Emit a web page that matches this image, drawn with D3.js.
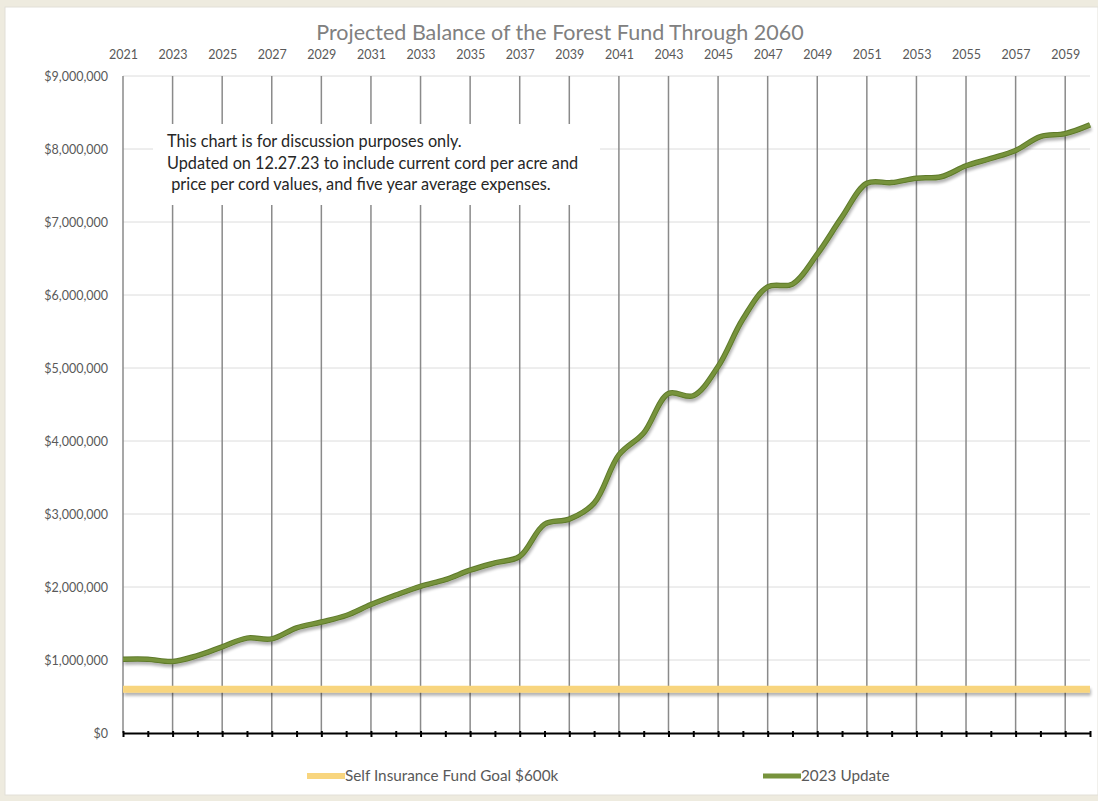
<!DOCTYPE html>
<html>
<head>
<meta charset="utf-8">
<script src="https://cdn.jsdelivr.net/npm/d3@7"></script>
<style>
  body { margin: 0; background: #eeebdf; }
  svg { display: block; font-family: Lato, "Noto Sans", sans-serif; }
</style>
</head>
<body>
<svg id="chart" width="1098" height="801"></svg>
<script>
// chart data
var years = [2021, 2022, 2023, 2024, 2025, 2026, 2027, 2028, 2029, 2030,
             2031, 2032, 2033, 2034, 2035, 2036, 2037, 2038, 2039, 2040,
             2041, 2042, 2043, 2044, 2045, 2046, 2047, 2048, 2049, 2050,
             2051, 2052, 2053, 2054, 2055, 2056, 2057, 2058, 2059, 2060];
var balance2023 = [1010000, 1010000, 980000, 1060000, 1180000, 1300000, 1290000, 1440000, 1520000, 1610000,
                   1760000, 1890000, 2010000, 2100000, 2230000, 2330000, 2420000, 2860000, 2930000, 3150000,
                   3810000, 4110000, 4650000, 4620000, 5020000, 5670000, 6110000, 6150000, 6560000, 7070000,
                   7530000, 7540000, 7600000, 7620000, 7770000, 7870000, 7980000, 8170000, 8210000, 8330000];
var goalLevel = 600000;
var topYearLabels = [2021, 2023, 2025, 2027, 2029, 2031, 2033, 2035, 2037, 2039,
                     2041, 2043, 2045, 2047, 2049, 2051, 2053, 2055, 2057, 2059];
var yTicks = [0, 1000000, 2000000, 3000000, 4000000, 5000000, 6000000, 7000000, 8000000, 9000000];
var legendLabels = ["Self Insurance Fund Goal $600k", "2023 Update"];
var noteLines = ["This chart is for discussion purposes only.",
                 "Updated on 12.27.23 to include current cord per acre and",
                 " price per cord values, and five year average expenses."];

(function() {

var svg = d3.select("#chart");
var plotLeft = 123, plotRight = 1090, plotTop = 76, plotBottom = 733;

var x = d3.scaleLinear().domain([2021, 2060]).range([plotLeft, plotRight]);
var y = d3.scaleLinear().domain([0, 9000000]).range([plotBottom, plotTop]);

var greenCol = "#77933c";
var goldCol = "#f8d57e";

// white panel
svg.append("rect")
   .attr("x", 5).attr("y", 7).attr("width", 1093).attr("height", 788)
   .attr("fill", "#ffffff").attr("stroke", "#e2e0d8");

// soft drop shadow, in page units so flat lines still get it
var defs = svg.append("defs");
var f = defs.append("filter").attr("id", "shadow")
   .attr("filterUnits", "userSpaceOnUse")
   .attr("x", 0).attr("y", 0).attr("width", 1098).attr("height", 801);
f.append("feGaussianBlur").attr("in", "SourceAlpha").attr("stdDeviation", 1.5).attr("result", "b");
f.append("feOffset").attr("in", "b").attr("dx", 1).attr("dy", 3).attr("result", "o");
f.append("feComponentTransfer").attr("in", "o").attr("result", "s")
  .append("feFuncA").attr("type", "linear").attr("slope", 0.3);
var m = f.append("feMerge");
m.append("feMergeNode").attr("in", "s");
m.append("feMergeNode").attr("in", "SourceGraphic");

// horizontal gridlines
svg.append("g").selectAll("line").data(yTicks.slice(1)).enter().append("line")
   .attr("x1", plotLeft).attr("x2", plotRight)
   .attr("y1", function(d) { return y(d); }).attr("y2", function(d) { return y(d); })
   .attr("stroke", "#dcdcdc").attr("stroke-width", 1);

// vertical gridlines at odd years
svg.append("g").selectAll("line").data(topYearLabels).enter().append("line")
   .attr("x1", function(d) { return x(d); }).attr("x2", function(d) { return x(d); })
   .attr("y1", y(9000000)).attr("y2", y(0))
   .attr("stroke", "#8a8a8a").attr("stroke-width", 1.5);

// note box hides the gridlines behind it
var note = svg.append("g");
note.append("rect")
    .attr("x", 153).attr("y", 124).attr("width", 447).attr("height", 81)
    .attr("fill", "#ffffff");
note.selectAll("text").data(noteLines).enter().append("text")
    .attr("x", 167)
    .attr("y", function(d, i) { return 147 + i * 21.5; })
    .attr("font-size", "16.3px")
    .attr("fill", "#262626")
    .attr("xml:space", "preserve")
    .style("white-space", "pre")
    .text(function(d) { return d; });

// top year labels
svg.append("g")
   .attr("transform", "translate(0," + (plotTop - 14) + ")")
   .call(d3.axisTop(x).tickValues(topYearLabels).tickFormat(d3.format("d")).tickSize(0))
   .call(function(g) { g.select(".domain").remove(); })
   .selectAll("text")
   .attr("font-size", "12.5px").attr("fill", "#595959").attr("font-family", "Lato, sans-serif");

// y axis labels
svg.append("g")
   .attr("transform", "translate(" + plotLeft + ",0)")
   .call(d3.axisLeft(y).tickValues(yTicks).tickFormat(d3.format("$,")).tickSize(0).tickPadding(15))
   .call(function(g) { g.select(".domain").remove(); })
   .selectAll("text")
   .attr("font-size", "12.5px").attr("fill", "#595959").attr("font-family", "Lato, sans-serif");

// goal line
svg.append("line")
   .attr("x1", x(2021)).attr("x2", x(2060))
   .attr("y1", y(goalLevel)).attr("y2", y(goalLevel))
   .attr("stroke", goldCol).attr("stroke-width", 7)
   .attr("filter", "url(#shadow)");

// bottom axis with crossing ticks
var xb = svg.append("g")
   .attr("transform", "translate(0," + plotBottom + ")")
   .call(d3.axisBottom(x).tickValues(years).tickFormat("").tickSizeOuter(0).tickSizeInner(4));
xb.select(".domain").attr("stroke", "#000").attr("stroke-width", 2);
xb.selectAll(".tick line").attr("y1", -2).attr("stroke", "#000").attr("stroke-width", 2);

// balance line
var line = d3.line()
   .x(function(d, i) { return x(years[i]); })
   .y(function(d) { return y(d); })
   .curve(d3.curveCatmullRom.alpha(0.5));

svg.append("path")
   .datum(balance2023)
   .attr("d", line)
   .attr("fill", "none")
   .attr("stroke", "#5e7a2c").attr("stroke-width", 5.5)
   .attr("filter", "url(#shadow)");
svg.append("path")
   .datum(balance2023)
   .attr("d", line)
   .attr("fill", "none")
   .attr("stroke", greenCol).attr("stroke-width", 3.5);

// title
svg.append("text")
   .attr("x", 560).attr("y", 40)
   .attr("text-anchor", "middle")
   .attr("font-size", "21.5px")
   .attr("fill", "#808080")
   .text("Projected Balance of the Forest Fund Through 2060");

// legend
var legendX = [307, 763];
var legendCols = [goldCol, greenCol];
var lg = svg.append("g").selectAll("g").data(legendLabels).enter().append("g")
   .attr("transform", function(d, i) { return "translate(" + legendX[i] + ",776)"; });
lg.append("line")
  .attr("x1", 0).attr("x2", 38).attr("y1", 0).attr("y2", 0)
  .attr("stroke", function(d, i) { return legendCols[i]; })
  .attr("stroke-width", function(d, i) { return i == 0 ? 6 : 5; });
lg.append("text")
  .attr("x", 38).attr("y", 5)
  .attr("font-size", "15.3px")
  .attr("fill", "#595959")
  .text(function(d) { return d; });

})();
</script>
</body>
</html>
